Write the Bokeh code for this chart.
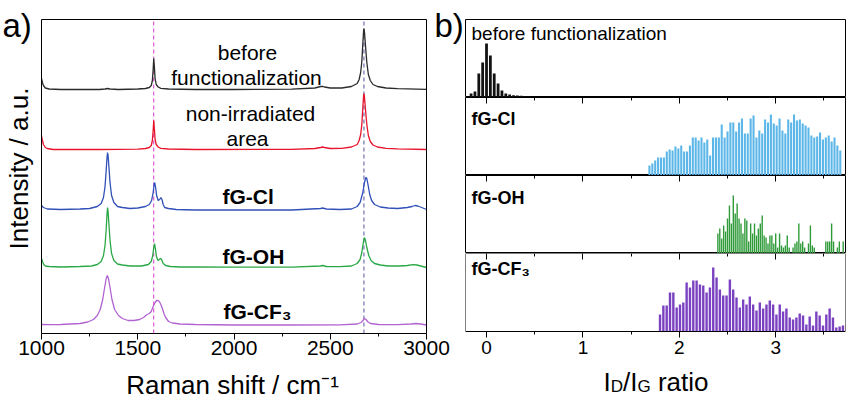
import math
from bokeh.plotting import figure
from bokeh.layouts import row, column
from bokeh.models import (Range1d, Label, LinearAxis, SingleIntervalTicker,
                          CustomJSTickFormatter)
from bokeh.embed import file_html
from bokeh.resources import INLINE

FONT = "Liberation Sans"

# ---------------- panel a : Raman spectra (relative intensity, a.u.) ----------------
before_x = [1000, 1005, 1010, 1020, 1040, 1100, 1300, 1330, 1343, 1356, 1400, 1500, 1540, 1560, 1570,
            1576, 1580, 1583, 1586, 1590, 1596, 1606, 1620, 1660, 1800, 2000, 2300, 2420, 2450, 2460,
            2470, 2500, 2560, 2610, 2640, 2650, 2658, 2664, 2669, 2673, 2675, 2678, 2683, 2690, 2698,
            2708, 2722, 2745, 2790, 2850, 3000]
before_y = [11, 7, 4, 1.5, 0.5, 0, 0, 0.5, 1, 0.5, 0, 0.5, 1, 2, 4,
            9, 20, 31, 24, 11, 5, 2.5, 1.2, 0.5, 0, 0, 0.3, 1.5, 3, 3.2,
            2.5, 1.5, 1.5, 3, 6, 10, 17, 28, 45, 58, 61, 57, 44, 27, 15,
            9, 5, 3, 1.5, 0.8, 0.2]

nonirr_x = [1000, 1005, 1010, 1020, 1030, 1060, 1300, 1500, 1540, 1560, 1570, 1576, 1580, 1583, 1586,
            1590, 1596, 1606, 1620, 1660, 1800, 2300, 2420, 2450, 2460, 2470, 2500, 2560, 2610, 2640,
            2650, 2658, 2664, 2669, 2673, 2675, 2678, 2683, 2690, 2698, 2708, 2722, 2745, 2790, 2850,
            3000]
nonirr_y = [14, 9, 5, 2, 1, 0, 0, 0.3, 1, 2, 4, 9, 19, 29, 22,
            10, 5, 2.5, 1.2, 0.5, 0, 0.2, 1, 2, 2.5, 2, 1, 1.2, 2.5, 5,
            9, 15, 25, 41, 53, 56, 52, 40, 25, 14, 8, 4.5, 2.5, 1.2, 0.6,
            0]

cl_x = [1000, 1010, 1030, 1100, 1200, 1250, 1290, 1310, 1322, 1330, 1336, 1340, 1343, 1346, 1350,
        1356, 1364, 1376, 1395, 1420, 1460, 1500, 1540, 1560, 1572, 1580, 1585, 1588, 1592, 1598,
        1606, 1614, 1620, 1626, 1632, 1640, 1660, 1700, 1800, 2000, 2300, 2450, 2460, 2480, 2550,
        2610, 2640, 2655, 2668, 2678, 2685, 2690, 2696, 2705, 2715, 2730, 2760, 2800, 2850, 2900,
        2925, 2940, 2955, 2975, 3000]
cl_y = [5, 3, 1.5, 1, 1.5, 2, 4, 7, 13, 24, 40, 52, 58, 55, 44,
        28, 15, 8, 4, 3, 2, 2.5, 4, 6, 10, 18, 26, 28, 24, 15,
        10, 11, 13, 11, 6, 3, 2, 1, 0.5, 0.5, 0.5, 2, 2.5, 1.5, 1,
        1.5, 4, 8, 17, 28, 33, 32, 26, 16, 10, 6, 3.5, 2.5, 2, 3,
        4, 5, 4.5, 3, 1]

oh_x = [1000, 1005, 1012, 1020, 1040, 1100, 1200, 1260, 1290, 1310, 1322, 1330, 1336, 1340, 1343,
        1346, 1350, 1356, 1364, 1376, 1395, 1420, 1460, 1520, 1555, 1570, 1578, 1583, 1587, 1591,
        1597, 1605, 1612, 1618, 1624, 1632, 1645, 1670, 1720, 1800, 2000, 2300, 2450, 2460, 2480,
        2550, 2610, 2640, 2655, 2664, 2672, 2677, 2682, 2690, 2700, 2712, 2730, 2760, 2800, 2860,
        2900, 2930, 2950, 2970, 3000]
oh_y = [9, 6, 3, 1.5, 1, 0.5, 1, 1.5, 3, 6, 12, 22, 38, 52, 60,
        56, 44, 27, 14, 7, 3.5, 2.5, 1.5, 1.5, 3, 6, 12, 20, 24, 20,
        11, 7, 8, 9, 8, 4, 2, 1, 0.5, 0.5, 0.3, 0.3, 1.5, 2, 1,
        0.8, 1.5, 4, 8, 15, 25, 30, 28, 20, 12, 7, 4, 2.5, 1.5, 1.5,
        2, 2.8, 2.5, 1.5, 0]

cf3_x = [1000, 1050, 1100, 1150, 1200, 1240, 1270, 1290, 1305, 1318, 1328, 1336, 1342, 1348, 1356,
         1366, 1380, 1400, 1420, 1450, 1480, 1510, 1530, 1548, 1560, 1570, 1580, 1590, 1598, 1605,
         1612, 1620, 1628, 1636, 1645, 1660, 1680, 1720, 1800, 2000, 2300, 2550, 2640, 2660, 2670,
         2678, 2686, 2696, 2710, 2750, 2850, 2920, 2945, 2970, 3000]
cf3_y = [1, 0.8, 1, 1.5, 2, 3.5, 6, 10, 16, 26, 38, 47, 50, 47, 38,
         26, 16, 10, 7, 5, 5, 6, 8, 11, 12, 14, 19, 23, 25, 25,
         24, 21, 17, 12, 8, 4, 2.5, 1.5, 1, 0.5, 0.5, 0.7, 1.5, 3, 5,
         7, 6, 3.5, 2, 1, 0.8, 1.5, 2, 1.5, 0.5]

spectra_offsets = [244, 184, 123, 66, 8]
spectra_colors = ["#2b2b2b", "#e8142c", "#3150b8", "#2aa845", "#b263d2"]
ref_peaks = [1583, 2675]          # G and 2D band reference positions (cm-1)
ref_colors = ["#d23ccc", "#55559f"]
raman_min, raman_max = 1000, 3000

# ---------------- panel b : I_D / I_G histograms ----------------
before_bin_start, before_bin_w = -0.16, 0.04
before_counts = [4, 6, 24, 35, 54, 42, 24, 14, 7, 4, 3, 2.3, 2, 1.7, 1.3, 1]

cl_bin_start, cl_bin_w = 1.69, 0.03
cl_counts = [10, 12, 15, 18, 18, 18, 24, 26, 25, 29, 27, 30, 24, 24, 30, 38, 38, 35, 38, 33,
             36, 20, 38, 38, 38, 51, 38, 44, 53, 53, 44, 53, 57, 42, 42, 57, 60, 38, 45, 42,
             56, 53, 61, 52, 50, 57, 45, 42, 56, 53, 61, 55, 56, 52, 50, 48, 40, 38, 39, 43,
             36, 38, 40, 34, 38, 30, 25]

oh_bin_start, oh_bin_w = 2.40, 0.02
oh_counts = [20, 25, 15, 28, 22, 35, 48, 30, 58, 40, 50, 35, 30, 20, 35, 33, 12, 30, 20, 30,
             18, 25, 30, 38, 18, 16, 10, 18, 18, 10, 20, 6, 20, 8, 6, 8, 18, 6, 0, 6,
             10, 12, 30, 10, 12, 6, 0, 10, 28, 8, 6, 0, 0, 0, 0, 0, 12, 12, 12, 30,
             12, 0, 6, 12, 0, 12]

cf3_bin_start, cf3_bin_w = 1.80, 0.0345
cf3_counts = [17, 26, 26, 39, 39, 24, 27, 29, 49, 44, 51, 51, 47, 46, 39, 44, 64, 54, 42, 36,
              36, 52, 42, 34, 24, 32, 27, 35, 27, 21, 29, 23, 27, 31, 27, 17, 27, 20, 23, 14,
              12, 14, 18, 16, 7, 15, 6, 20, 16, 6, 17, 23, 14, 4, 5, 6]

hist_names = ["before functionalization", "fG-Cl", "fG-OH", "fG-CF\u2083"]
hist_colors = ["#111111", "#5cb6e8", "#2e9a38", "#7a41c0"]

# ---------------- geometry (screen px of the page; Bokeh's page has no body margin) ----------------
A_L, A_R, A_T, A_B = 41, 426, 19, 333
CANVAS_L, CANVAS_T, CANVAS_B, CANVAS_R = 0, 0, 398, 850
B_L, B_R = 465, 845
B_BOUNDS = [19, 97, 175, 253, 331]
XB0, XB1 = -0.218, 3.724

A_SCALE = (raman_max - raman_min) / (A_R - A_L)


def ax_(xs):
    return raman_min + (xs - A_L) * A_SCALE


def ay_(ys):
    return A_B - ys


def bx_(xs):
    return XB0 + (xs - B_L) * (XB1 - XB0) / (B_R - B_L)


def lab(fig, x, y, text, size, bold=False, align="left", baseline="middle", angle=0.0):
    fig.add_layout(Label(x=x, y=y, text=text, text_font=FONT, text_font_size=f"{size}px",
                         text_font_style="bold" if bold else "normal", text_align=align,
                         text_baseline=baseline, angle=angle, text_color="black"))


def base_style(fig):
    fig.xgrid.visible = False
    fig.ygrid.visible = False
    fig.background_fill_color = "white"
    fig.border_fill_color = "white"


def blank_formatter():
    return CustomJSTickFormatter(code="return ''")


# ---------------- panel a figure (frame = whole canvas, box drawn by bounded axes) ----------------
pa = figure(width=B_L - CANVAS_L, height=CANVAS_B - CANVAS_T,
            x_range=Range1d(ax_(CANVAS_L), ax_(B_L)),
            y_range=Range1d(ay_(CANVAS_B), ay_(CANVAS_T)),
            output_backend="svg", toolbar_location=None, min_border=0,
            x_axis_location="below", y_axis_location="left")
base_style(pa)
pa.outline_line_color = None
Y_TOP = A_B - A_T

xa = pa.xaxis[0]
xa.fixed_location = 0
xa.bounds = (raman_min, raman_max)
xa.ticker = SingleIntervalTicker(interval=500, num_minor_ticks=2)
xa.major_tick_out, xa.major_tick_in = 6, 0
xa.minor_tick_out, xa.minor_tick_in = 3, 0
xa.major_label_text_font = FONT
xa.major_label_text_font_size = "21px"
xa.major_label_text_color = "black"
xa.major_label_standoff = 1
xa.axis_line_color = "black"

ya = pa.yaxis[0]
ya.fixed_location = raman_min
ya.bounds = (0, Y_TOP)
ya.major_tick_out = ya.major_tick_in = ya.minor_tick_out = ya.minor_tick_in = 0
ya.formatter = blank_formatter()
ya.axis_line_color = "black"

top_ax = LinearAxis(fixed_location=Y_TOP, bounds=(raman_min, raman_max), axis_line_color="black",
                    major_tick_in=0, major_tick_out=0, minor_tick_in=0, minor_tick_out=0,
                    formatter=blank_formatter())
pa.add_layout(top_ax, "above")
right_ax = LinearAxis(fixed_location=raman_max, bounds=(0, Y_TOP), axis_line_color="black",
                      major_tick_in=0, major_tick_out=0, minor_tick_in=0, minor_tick_out=0,
                      formatter=blank_formatter())
pa.add_layout(right_ax, "right")

for pk, c in zip(ref_peaks, ref_colors):
    pa.segment(x0=[pk], y0=[0], x1=[pk], y1=[Y_TOP], line_color=c, line_dash="4 3", line_width=1)

for xs, ys, off, c in zip([before_x, nonirr_x, cl_x, oh_x, cf3_x],
                          [before_y, nonirr_y, cl_y, oh_y, cf3_y],
                          spectra_offsets, spectra_colors):
    pa.line([float(v) for v in xs], [v + off for v in ys], line_color=c, line_width=1.3)

lab(pa, ax_(247), ay_(52), "before", 21, align="center")
lab(pa, ax_(246), ay_(77), "functionalization", 21, align="center")
lab(pa, ax_(250), ay_(113), "non-irradiated", 21, align="center")
lab(pa, ax_(247), ay_(138), "area", 21, align="center")
lab(pa, ax_(222), ay_(196), "fG-Cl", 21, bold=True)
lab(pa, ax_(222), ay_(256), "fG-OH", 21, bold=True)
lab(pa, ax_(223), ay_(311), "fG-CF\u2083", 21, bold=True)
lab(pa, ax_(18), ay_(168), "Intensity / a.u.", 26, align="center", angle=math.pi / 2)
lab(pa, ax_(232), ay_(384), "Raman shift / cm\u207b\u00b9", 26, align="center", baseline="alphabetic")
lab(pa, ax_(2), ay_(25), "a)", 33, baseline="alphabetic")
lab(pa, ax_(434), ay_(25), "b)", 33, baseline="alphabetic")

# ---------------- panel b figures ----------------
hist_data = [(before_bin_start, before_bin_w, before_counts),
             (cl_bin_start, cl_bin_w, cl_counts),
             (oh_bin_start, oh_bin_w, oh_counts),
             (cf3_bin_start, cf3_bin_w, cf3_counts)]
label_y = [33, 118, 197, 268]
xr = Range1d(XB0, XB1)
pbs = []
for k in range(4):
    top, bot = B_BOUNDS[k], B_BOUNDS[k + 1]
    frame_h = bot - top
    last = (k == 3)
    mtop = (B_BOUNDS[0] - CANVAS_T) if k == 0 else 0
    extra = (CANVAS_B - bot) if last else 0
    fig = figure(width=CANVAS_R - B_L, height=mtop + frame_h + extra, x_range=xr,
                 y_range=Range1d(-extra, frame_h), output_backend="svg", toolbar_location=None,
                 min_border_left=0, min_border_right=CANVAS_R - B_R, min_border_top=mtop,
                 min_border_bottom=0)
    base_style(fig)
    fig.yaxis.visible = False
    start, w, counts = hist_data[k]
    centers = [start + i * w for i in range(len(counts))]
    fig.vbar(x=centers, top=counts, bottom=0, width=w * 0.72, fill_color=hist_colors[k],
             line_color=None)
    if not last:
        fig.outline_line_color = "black"
        fig.xaxis.visible = False
    else:
        fig.outline_line_color = None
        xb = fig.xaxis[0]
        xb.fixed_location = 0
        xb.ticker = SingleIntervalTicker(interval=1, num_minor_ticks=2)
        xb.major_tick_out, xb.major_tick_in = 6, 0
        xb.minor_tick_out, xb.minor_tick_in = 3, 0
        xb.major_label_text_font = FONT
        xb.major_label_text_font_size = "19px"
        xb.major_label_text_color = "black"
        xb.major_label_standoff = 3
        xb.axis_line_color = "black"
        for loc, side in [(XB0, "left"), (XB1, "right")]:
            fig.add_layout(LinearAxis(fixed_location=loc, bounds=(0, frame_h),
                                      axis_line_color="black", major_tick_in=0, major_tick_out=0,
                                      minor_tick_in=0, minor_tick_out=0,
                                      formatter=blank_formatter()), side)
    if k > 0:
        ta = LinearAxis(ticker=SingleIntervalTicker(interval=1, num_minor_ticks=2),
                        formatter=blank_formatter(), fixed_location=frame_h,
                        axis_line_color="black" if last else None,
                        major_tick_in=6, major_tick_out=0, minor_tick_in=3, minor_tick_out=0,
                        major_label_standoff=0)
        fig.add_layout(ta, "above")
    lab(fig, bx_(471), bot - label_y[k], hist_names[k], 19 if k == 0 else 18, bold=(k > 0))
    pbs.append(fig)

# I_D/I_G ratio axis title (subscripts as separate smaller texts)
p4 = pbs[3]
yb = B_BOUNDS[4]
parts = [("I", 26, 0, 0.278), ("D", 17, 5, 0.722), ("/I", 26, 0, 0.556), ("G", 17, 5, 0.778 + 0.278 * 26 / 17),
         ("ratio", 26, 0, 1.945)]
xcur = 603.0
for txt, sz, dy, wem in parts:
    lab(p4, bx_(xcur), yb - (381 + dy), txt, sz, baseline="alphabetic")
    xcur += wem * sz

layout = row(pa, column(*pbs))
open("out.html", "w").write(file_html(layout, INLINE))
